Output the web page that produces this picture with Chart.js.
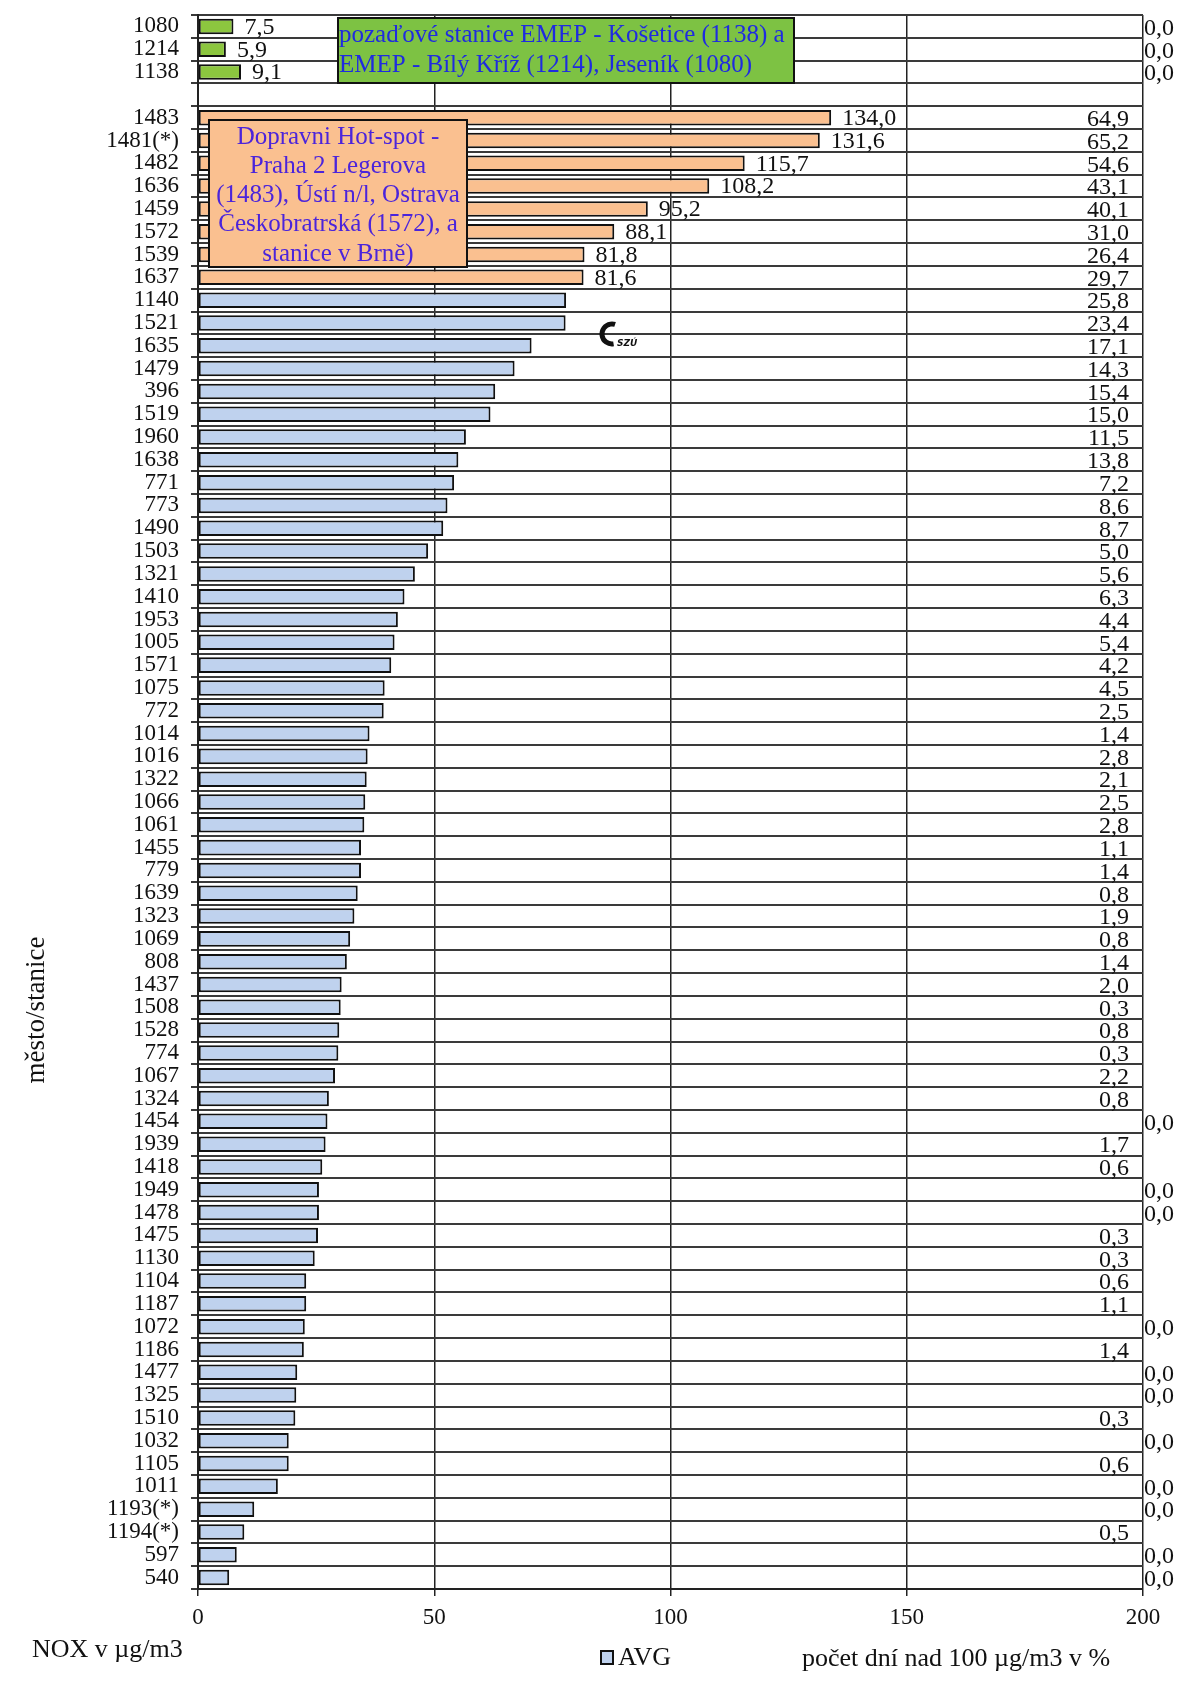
<!DOCTYPE html>
<html>
<head>
<meta charset="utf-8">
<script src="https://cdn.jsdelivr.net/npm/chart.js@4/dist/chart.umd.min.js"></script>
<style>
html,body{margin:0;padding:0;background:#fff;}
#wrap{width:1178px;height:1695px;position:relative;}
</style>
</head>
<body>
<div id="wrap"><canvas id="c" width="1178" height="1695"></canvas></div>
<script>
// ---- data ----
const stations = ['1080','1214','1138','','1483','1481(*)','1482','1636','1459','1572','1539','1637',
 '1140','1521','1635','1479','396','1519','1960','1638','771','773','1490','1503','1321','1410','1953',
 '1005','1571','1075','772','1014','1016','1322','1066','1061','1455','779','1639','1323','1069','808',
 '1437','1508','1528','774','1067','1324','1454','1939','1418','1949','1478','1475','1130','1104','1187',
 '1072','1186','1477','1325','1510','1032','1105','1011','1193(*)','1194(*)','597','540'];
const groups = ['bg','bg','bg','none','hot','hot','hot','hot','hot','hot','hot','hot',
 'std','std','std','std','std','std','std','std','std','std','std','std','std','std','std',
 'std','std','std','std','std','std','std','std','std','std','std','std','std','std','std',
 'std','std','std','std','std','std','std','std','std','std','std','std','std','std','std',
 'std','std','std','std','std','std','std','std','std','std','std','std'];
const avgNOx = [7.5,5.9,9.1,null,134.0,131.6,115.7,108.2,95.2,88.1,81.8,81.6,
 77.9,77.8,70.6,67.0,62.9,61.9,56.7,55.1,54.2,52.8,51.9,48.7,45.9,43.7,42.3,
 41.6,40.9,39.5,39.3,36.3,35.9,35.7,35.4,35.2,34.5,34.5,33.8,33.1,32.2,31.5,
 30.4,30.2,29.9,29.7,29.0,27.7,27.4,27.0,26.3,25.6,25.6,25.4,24.7,22.9,22.9,
 22.6,22.4,21.0,20.8,20.6,19.2,19.2,16.9,11.9,9.8,8.2,6.6];
const daysOver100 = [0.0,0.0,0.0,null,64.9,65.2,54.6,43.1,40.1,31.0,26.4,29.7,
 25.8,23.4,17.1,14.3,15.4,15.0,11.5,13.8,7.2,8.6,8.7,5.0,5.6,6.3,4.4,
 5.4,4.2,4.5,2.5,1.4,2.8,2.1,2.5,2.8,1.1,1.4,0.8,1.9,0.8,1.4,
 2.0,0.3,0.8,0.3,2.2,0.8,0.0,1.7,0.6,0.0,0.0,0.3,0.3,0.6,1.1,
 0.0,1.4,0.0,0.0,0.3,0.0,0.6,0.0,0.0,0.5,0.0,0.0];
const xTicks = [0,50,100,150,200];
const bgNote = ['pozaďové stanice EMEP - Košetice (1138) a','EMEP - Bílý Kříž (1214), Jeseník (1080)'];
const hotNote = ['Dopravni Hot-spot -','Praha 2 Legerova','(1483), Ústí n/l, Ostrava','Českobratrská (1572), a','stanice v Brně)'];

const FONT = '"Liberation Serif", "DejaVu Serif", serif';
const groupColor = {bg:'#8CC63F', hot:'#FAC090', std:'#BFD2EE', none:'#ffffff'};
const fmt = v => v.toFixed(1).replace('.', ',');

const overlay = {
  id:'overlay',
  afterDatasetsDraw(chart){
    const ctx = chart.ctx, x = chart.scales.x, y = chart.scales.y, a = chart.chartArea;
    ctx.save();
    ctx.fillStyle = '#111';
    ctx.textBaseline = 'middle';
    // value labels for background and hot-spot bars
    ctx.font = '24px ' + FONT;
    avgNOx.forEach((v,i)=>{
      if (v === null) return;
      if (groups[i] === 'bg' || groups[i] === 'hot') {
        ctx.textAlign = 'left';
        ctx.fillText(fmt(v), x.getPixelForValue(v) + 11, y.getPixelForValue(i) + 1);
      }
    });
    // days over 100 labels
    ctx.font = '24px ' + FONT;
    daysOver100.forEach((d,i)=>{
      if (d === null) return;
      const py = y.getPixelForValue(i) + 2;
      if (d === 0) { ctx.textAlign = 'left'; ctx.fillText(fmt(d), a.right + 1, py); }
      else { ctx.textAlign = 'right'; ctx.fillText(fmt(d), a.right - 14, py); }
    });
    // green note box
    ctx.fillStyle = '#7DC243';
    ctx.fillRect(338, 18, 456, 65);
    ctx.lineWidth = 2; ctx.strokeStyle = '#111';
    ctx.strokeRect(338, 18, 456, 65);
    ctx.fillStyle = '#1F2BE0';
    ctx.textAlign = 'left';
    ctx.font = '25px ' + FONT;
    bgNote.forEach((t,k)=> ctx.fillText(t, 339, 35 + k*30));
    // hot-spot note box
    ctx.fillStyle = '#FAC090';
    ctx.fillRect(209, 120, 258, 147);
    ctx.strokeRect(209, 120, 258, 147);
    ctx.fillStyle = '#4B24DB';
    ctx.textAlign = 'center';
    ctx.font = '25px ' + FONT;
    hotNote.forEach((t,k)=> ctx.fillText(t, 338, 137 + k*29.3));
    // small SZU logo
    ctx.fillStyle = '#111';
    ctx.beginPath();
    ctx.arc(612, 334, 10, Math.PI*0.45, Math.PI*1.6);
    ctx.lineWidth = 5; ctx.strokeStyle = '#111'; ctx.stroke();
    ctx.font = 'italic bold 9px "DejaVu Sans", sans-serif';
    ctx.textAlign = 'left';
    ctx.fillText('SZÚ', 617, 344);
    ctx.restore();
  },
  afterDraw(chart){
    const ctx = chart.ctx;
    ctx.save();
    ctx.fillStyle = '#111';
    ctx.textBaseline = 'middle';
    ctx.font = '26px ' + FONT;
    ctx.textAlign = 'left';
    ctx.fillText('NOX v µg/m3', 32, 1650);
    ctx.fillText('AVG', 618, 1658);
    ctx.fillText('počet dní nad 100 µg/m3 v %', 802, 1659);
    ctx.fillStyle = '#BFD2EE';
    ctx.fillRect(601, 1651, 12, 13);
    ctx.lineWidth = 2; ctx.strokeStyle = '#111';
    ctx.strokeRect(601, 1651, 12, 13);
    // y title
    ctx.translate(37, 1010);
    ctx.rotate(-Math.PI/2);
    ctx.textAlign = 'center';
    ctx.fillStyle = '#111';
    ctx.font = '27px ' + FONT;
    ctx.fillText('město/stanice', 0, 0);
    ctx.restore();
  }
};

new Chart(document.getElementById('c'), {
  type:'bar',
  data:{
    labels: stations,
    datasets:[{
      label:'AVG',
      data: avgNOx,
      backgroundColor: groups.map(g=>groupColor[g]),
      borderColor:'#111',
      borderWidth:2,
      borderSkipped:false,
      barPercentage:0.68,
      categoryPercentage:1.0
    }]
  },
  options:{
    indexAxis:'y',
    responsive:false,
    animation:false,
    layout:{padding:{top:15,right:35,left:0,bottom:0}},
    plugins:{legend:{display:false},tooltip:{enabled:false}},
    scales:{
      x:{
        min:0,max:200,
        afterBuildTicks: s => { s.ticks = xTicks.map(v=>({value:v})); },
        afterFit: s => { s.height = 106; s.paddingLeft = 0; s.paddingRight = 0; },
        grid:{color:'#222',lineWidth:1.5,tickLength:7,drawTicks:true},
        border:{color:'#222',width:2},
        ticks:{font:{family:FONT,size:23},color:'#111',padding:8}
      },
      y:{
        offset:true,
        afterFit: s => { s.width = 198; s.paddingTop = 0; s.paddingBottom = 0; },
        grid:{offset:true,color:'#3a3a3a',lineWidth:2,tickLength:7},
        border:{color:'#222',width:2},
        ticks:{font:{family:FONT,size:23},color:'#111',padding:12,autoSkip:false}
      }
    }
  },
  plugins:[overlay]
});
</script>
</body>
</html>
